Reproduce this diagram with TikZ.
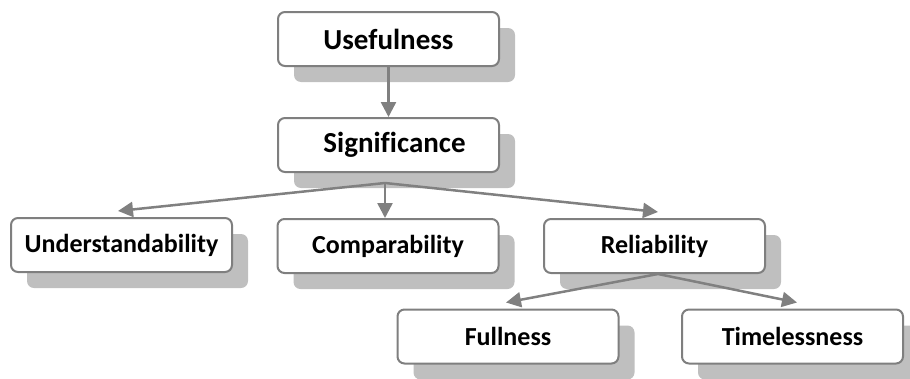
\documentclass[tikz,border=0pt]{standalone}
\usepackage{fontspec}
\setmainfont[Ligatures=NoCommon]{Carlito}
\usetikzlibrary{shadows,arrows.meta,calc}
\definecolor{bordergray}{HTML}{7F7F7F}
\definecolor{shadowgray}{HTML}{BFBFBF}
\definecolor{arrowgray}{HTML}{808080}
\tikzset{
  box/.style={draw=bordergray, line width=2pt, rounded corners=7pt, fill=white,
    minimum width=221pt, minimum height=54pt, inner sep=0pt,
    font=\bfseries\fontsize{26}{30}\selectfont,
    drop shadow={shadow xshift=16pt, shadow yshift=-16pt, fill=shadowgray, opacity=1}},
  bigbox/.style={box, font=\bfseries\fontsize{29}{34}\selectfont},
  conn/.style={draw=arrowgray, line width=2.5pt, -{Triangle[length=15pt,width=15pt]}}
}
\begin{document}
\begin{tikzpicture}[x=1pt,y=-1pt]
\useasboundingbox (0,0) rectangle (910,378);
\node[bigbox] (use) at (388.5,39) {Usefulness};
\node[bigbox] (sig) at (388.5,145) {\hspace{12pt}Significance};
\node[box] (und) at (121.5,245) {Understandability};
\node[box] (com) at (388,246) {Comparability};
\node[box] (rel) at (654.5,246) {Reliability};
\node[box] (ful) at (508,336.5) {Fullness};
\node[box] (tim) at (792.5,336.5) {Timelessness};
\coordinate (sj) at ($(sig.south)+(-3.5,10)$);
\coordinate (rj) at ($(rel.south)+(3.5,0)$);
\draw[conn] (use.south) -- (sig.north);
\draw[conn] (sj) -- ($(und.north)+(-3.5,-6)$);
\draw[conn] (sj) -- ($(com.north)+(-3,0)$);
\draw[conn] (sj) -- ($(rel.north)+(3.5,-6)$);
\draw[conn] (rj) -- ($(ful.north)+(-2,-6)$);
\draw[conn] (rj) -- ($(tim.north)+(4.5,-6)$);
\end{tikzpicture}
\end{document}
